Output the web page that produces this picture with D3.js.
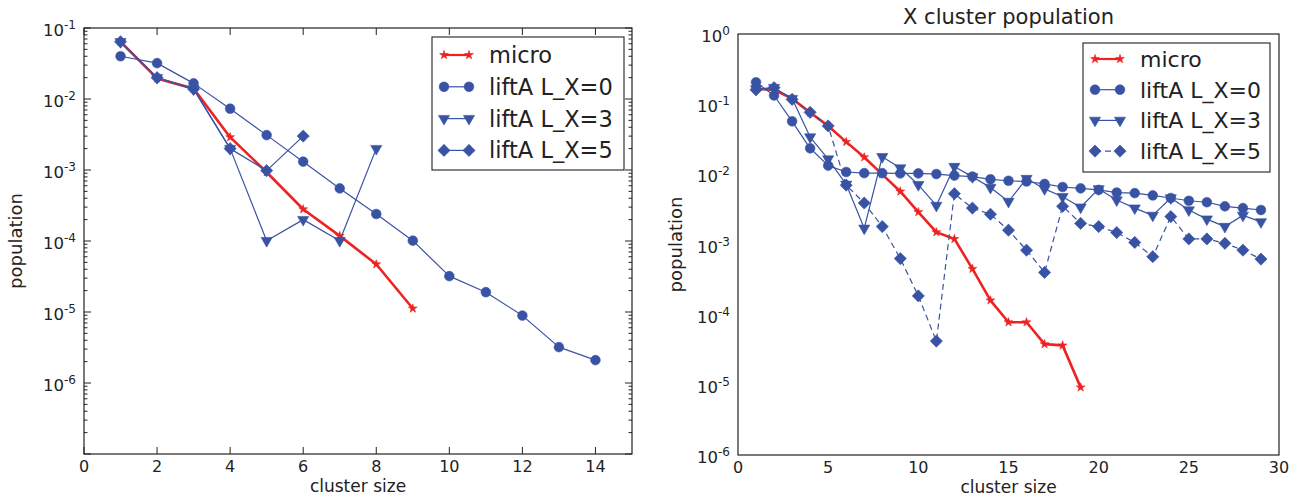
<!DOCTYPE html>
<html><head><meta charset="utf-8">
<script src="https://cdn.jsdelivr.net/npm/d3@7"></script>
<style>body{margin:0;background:#fff}svg{display:block}text{font-family:"DejaVu Sans",sans-serif;fill:#222}</style>
</head><body>
<svg id="c" width="1293" height="496"></svg>
<script>
// ---------- data ----------
const leftXTicks = [0,2,4,6,8,10,12,14];
const leftYTicks = [1e-1,1e-2,1e-3,1e-4,1e-5,1e-6];
const rightXTicks = [0,5,10,15,20,25,30];
const rightYTicks = [1e0,1e-1,1e-2,1e-3,1e-4,1e-5,1e-6];
const seriesNames = ["micro","liftA L_X=0","liftA L_X=3","liftA L_X=5"];

const leftMicro = [0.064,0.0195,0.0140,0.0029,0.00093,0.00028,0.000118,0.000047,0.0000112];
const leftL0 = [0.040,0.032,0.0166,0.0073,0.0031,0.00131,0.00055,0.00024,0.000101,0.000032,0.000019,0.0000089,0.0000032,0.0000021];
const leftL3 = [0.064,0.020,0.0138,0.0020,0.000101,0.000200,0.000101,0.0020];
const leftL5 = [0.064,0.020,0.0138,0.0020,0.00098,0.0030];

const rightMicro = [0.165,0.16,0.12,0.076,0.049,0.029,0.0175,0.0100,0.0057,0.0029,0.0015,0.0012,0.00045,0.00016,0.000078,0.000078,0.000038,0.0000365,0.0000092];
const rightL0 = [0.205,0.133,0.057,0.0235,0.0133,0.0108,0.0104,0.0104,0.0103,0.0103,0.0101,0.0096,0.0093,0.0085,0.0081,0.0079,0.0073,0.0066,0.0063,0.0060,0.0055,0.0054,0.0050,0.0046,0.0042,0.0040,0.0035,0.0033,0.0031];
const rightL3 = [0.165,0.172,0.12,0.034,0.0165,0.0072,0.0017,0.0178,0.0123,0.0071,0.0036,0.0129,0.0092,0.0065,0.0041,0.0087,0.0062,0.0048,0.0034,0.0062,0.0043,0.0033,0.0026,0.0046,0.0031,0.0023,0.0018,0.0026,0.0021];
const rightL5 = [0.16,0.172,0.117,0.0765,0.049,0.0070,0.0039,0.0018,0.00063,0.000185,0.000042,0.0053,0.0033,0.0027,0.0016,0.00083,0.00040,0.0035,0.0020,0.0018,0.00148,0.00107,0.00067,0.0025,0.0012,0.0012,0.00104,0.00083,0.00062];

// ---------- styles ----------
const RED = "#ee2222", BLUE = "#3953a4";
const markerDefs = {
  star:    {type: d3.symbolStar, size: 24, rot: 0},
  circle:  {type: d3.symbolCircle, size: 74, rot: 0},
  tri:     {type: d3.symbolTriangle, size: 54, rot: 180},
  diamond: {type: d3.symbolSquare, size: 74, rot: 45}
};
const styles = [
  {color: RED, width: 2.6, marker: "star"},
  {color: BLUE, width: 1.2, marker: "circle"},
  {color: BLUE, width: 1.2, marker: "tri"},
  {color: BLUE, width: 1.2, marker: "diamond"}
];

const svg = d3.select("#c");

function supLabel(sel, v) {
  const e = Math.round(Math.log10(v));
  sel.text(null);
  sel.append("tspan").text("10");
  sel.append("tspan").attr("dy", -7).attr("font-size", 12).text(String(e));
}

function drawMarker(g, kind, x, y, color) {
  const m = markerDefs[kind];
  g.append("path").attr("d", d3.symbol().type(m.type).size(m.size)())
    .attr("transform", `translate(${x},${y}) rotate(${m.rot})`)
    .attr("fill", color).attr("stroke", color).attr("stroke-width", 0.6);
}

function panel(opt) {
  const {L, R, T, B, xDom, yDom, xTicks, yTicks, data, dashL5, ticks, legend, title, ylabOff} = opt;
  const x = d3.scaleLinear().domain(xDom).range([L, R]);
  const y = d3.scaleLog().domain(yDom).range([B, T]);
  const g = svg.append("g");
  const clipId = "clip" + L;
  svg.append("clipPath").attr("id", clipId).append("rect").attr("x", L).attr("y", T).attr("width", R - L).attr("height", B - T);
  const plot = g.append("g").attr("clip-path", `url(#${clipId})`);

  data.forEach((vals, i) => {
    const st = styles[i];
    const pts = vals.map((v, k) => [k + 1, v]);
    const line = d3.line().x(d => x(d[0])).y(d => y(d[1]));
    plot.append("path").attr("d", line(pts)).attr("fill", "none")
      .attr("stroke", st.color).attr("stroke-width", st.width)
      .attr("stroke-linejoin", "round")
      .attr("stroke-dasharray", (i === 3 && dashL5) ? "6,4" : null);
    pts.forEach(d => drawMarker(plot, st.marker, x(d[0]), y(d[1]), st.color));
  });

  // frame
  g.append("rect").attr("x", L).attr("y", T).attr("width", R - L).attr("height", B - T)
    .attr("fill", "none").attr("stroke", "#222").attr("stroke-width", 1.2);

  // ticks
  if (ticks) {
    const tk = g.append("g").attr("stroke", "#222").attr("stroke-width", 1);
    xTicks.forEach(t => {
      tk.append("line").attr("x1", x(t)).attr("x2", x(t)).attr("y1", B).attr("y2", B - 7);
      tk.append("line").attr("x1", x(t)).attr("x2", x(t)).attr("y1", T).attr("y2", T + 7);
    });
    const lo = Math.floor(Math.log10(yDom[0])), hi = Math.ceil(Math.log10(yDom[1]));
    for (let e = lo; e <= hi; e++) {
      const base = Math.pow(10, e);
      if (base >= yDom[0] && base <= yDom[1]) {
        tk.append("line").attr("x1", L).attr("x2", L + 7).attr("y1", y(base)).attr("y2", y(base));
        tk.append("line").attr("x1", R).attr("x2", R - 7).attr("y1", y(base)).attr("y2", y(base));
      }
      for (let m = 2; m <= 9; m++) {
        const v = m * base;
        if (v >= yDom[0] && v <= yDom[1]) {
          tk.append("line").attr("x1", L).attr("x2", L + 3.5).attr("y1", y(v)).attr("y2", y(v));
          tk.append("line").attr("x1", R).attr("x2", R - 3.5).attr("y1", y(v)).attr("y2", y(v));
        }
      }
    }
  }
  // tick labels
  xTicks.forEach(t => {
    g.append("text").attr("x", x(t)).attr("y", B + 17.5).attr("text-anchor", "middle")
      .attr("font-size", 16).text(t);
  });
  yTicks.forEach(t => {
    const tx = g.append("text").attr("x", L - 8).attr("y", y(t) + 8).attr("text-anchor", "end")
      .attr("font-size", 16.5);
    supLabel(tx, t);
  });
  // axis labels
  g.append("text").attr("x", (L + R) / 2).attr("y", B + 37.5).attr("text-anchor", "middle")
    .attr("font-size", 17).text("cluster size");
  g.append("text").attr("transform", `translate(${L - ylabOff},${(T + B) / 2}) rotate(-90)`)
    .attr("text-anchor", "middle").attr("font-size", 18).text("population");
  if (title) {
    g.append("text").attr("x", (L + R) / 2).attr("y", 24).attr("text-anchor", "middle")
      .attr("font-size", 21).text(title);
  }
  // legend
  const lg = g.append("g");
  lg.append("rect").attr("x", legend.x).attr("y", legend.y).attr("width", legend.w).attr("height", legend.h)
    .attr("fill", "#fff").attr("stroke", "#333").attr("stroke-width", 1.2);
  seriesNames.forEach((name, i) => {
    const st = styles[i];
    const yy = legend.y + legend.first + i * legend.step;
    const x0 = legend.x + 12, x1 = x0 + legend.len;
    lg.append("line").attr("x1", x0).attr("x2", x1).attr("y1", yy).attr("y2", yy)
      .attr("stroke", st.color).attr("stroke-width", i === 0 ? 2.2 : 1.2)
      .attr("stroke-dasharray", (i === 3 && dashL5) ? "6,4" : null);
    drawMarker(lg, st.marker, x0, yy, st.color);
    drawMarker(lg, st.marker, x1, yy, st.color);
    lg.append("text").attr("x", x1 + 20).attr("y", yy + 8).attr("font-size", legend.fs).text(name);
  });
}

panel({L: 84, R: 632, T: 28, B: 454, xDom: [0, 15], yDom: [1e-7, 1e-1],
  xTicks: leftXTicks, yTicks: leftYTicks, data: [leftMicro, leftL0, leftL3, leftL5],
  dashL5: false, ticks: true, ylabOff: 62,
  legend: {x: 432, y: 37, w: 192, h: 133, first: 18, step: 31.8, len: 25, fs: 22.5}});

panel({L: 738, R: 1279, T: 34, B: 455, xDom: [0, 30], yDom: [1e-6, 1e0],
  xTicks: rightXTicks, yTicks: rightYTicks, data: [rightMicro, rightL0, rightL3, rightL5],
  dashL5: true, ticks: false, title: "X cluster population", ylabOff: 56,
  legend: {x: 1083, y: 43, w: 187, h: 129, first: 16, step: 30.7, len: 25, fs: 22}});
</script>
</body></html>
